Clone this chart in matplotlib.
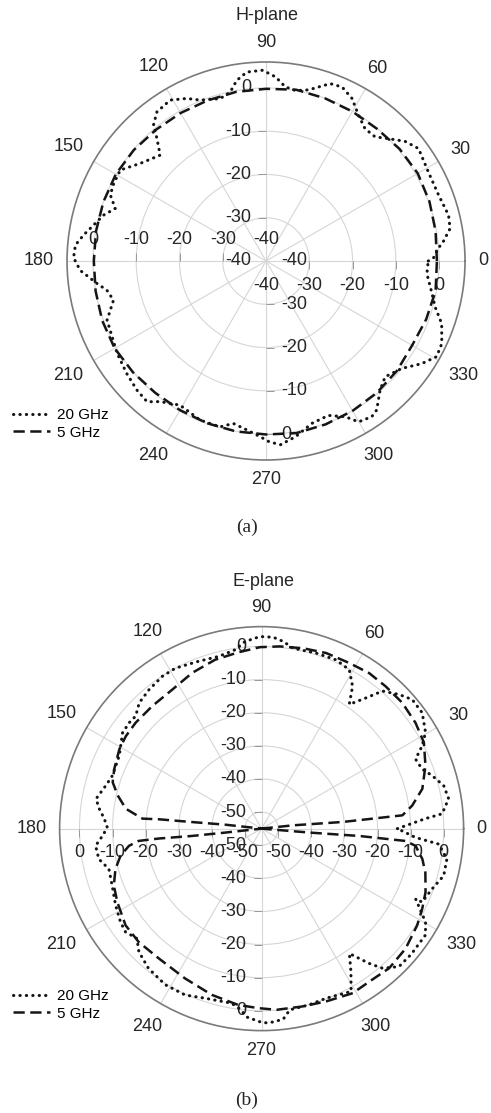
import numpy as np
import matplotlib
matplotlib.use("Agg")
import matplotlib.pyplot as plt
from matplotlib.lines import Line2D
from matplotlib.markers import TICKLEFT, TICKRIGHT, TICKUP, TICKDOWN

plt.rcParams['font.family'] = ['Liberation Sans', 'DejaVu Sans']

# Data (angle in degrees, level in dB) ------------------------------
# H-plane, 20 GHz
h_ang_20 = [0, 1, 4.2, 6.2, 10, 14.1, 20.9, 28.8, 36.4, 40.7, 45, 48.7, 53.2,
            57.6, 62.1, 66.4, 70.1, 75, 77, 80.3, 83.7, 87, 91, 95.8, 99.2,
            102, 105.8, 112.3, 116, 120.8, 126.2, 129.6, 131.7, 135, 142.2,
            148, 153, 157, 160.8, 164.2, 168.2, 171.9, 175.2, 179, 182.9,
            187.6, 190.4, 194.4, 200.4, 211.8, 219, 225, 229.8, 233, 239.2,
            247.5, 254.5, 258.6, 263.5, 268, 271, 274.5, 279.5, 285.8, 292,
            297, 299.9, 304.2, 306.6, 311.5, 315.8, 321.6, 326.6, 330.7,
            334.8, 340.4, 344.8, 348.9, 355.5, 360]
h_db_20 = [-2.5, -1.3, -0.1, 1.2, 3.2, 3.5, 2.7, 2.8, 3.8, 2.4, 0.0, -1.8, -1.8,
           -0.1, 2.5, 3.9, 3.6, 1.2, 0.5, 0.0, 0.5, 2.6, 4.1, 3.9, 2.3,
           -0.1, -1.0, 0.2, 1.8, 3.3, 2.7, 0.8, -2.1, -5.4, -3.2,
           -0.3, -0.5, -0.9, -3.1, -1.0, 0.7, 2.6, 4.2, 4.5, 3.0,
           -0.6, -2.6, -3.6, -0.8, 0.5, 1.4, 2.2, 2.6, 0.7, -1.2,
           -0.2, -0.2, -1.7, -0.7, 0.6, 1.8, 2.6, 1.2, -1.0, -1.5,
           0.4, 2.9, 3.5, 2.9, -0.2, -1.6, 0.0, 3.1, 5.2,
           4.9, 3.1, 0.5, -0.9, -2.7, -2.5]

# H-plane, 5 GHz
h_ang_5 = [0, 10, 20, 30, 40, 50, 60, 70, 80, 90, 100, 110, 120, 130, 140, 150,
           160, 170, 180, 190, 200, 210, 220, 230, 240, 250, 260, 270, 280,
           290, 300, 310, 320, 330, 340, 350, 360]
h_db_5 = [-0.5, -0.2, 0.2, 0.5, 0.3, -0.1, -0.1, 0.0, 0.2, -0.2, -0.3, -0.5,
          -0.5, -0.4, -0.1, 0.1, 0.0, -0.1, -0.2, 0.0, 0.3, 0.4, 0.1, -0.2,
          -0.2, -0.1, 0.0, 0.1, 0.4, 0.2, 0.0, -0.2, -0.5, -1.0, -0.6, -0.2,
          -0.5]

# E-plane, 20 GHz
e_ang_20 = [0, 3.5, 4.7, 9.1, 13.3, 17.3, 20.4, 24.3, 27.3, 30.4, 35.8, 40.6,
            44.3, 48.7, 51.4, 54.8, 57.4, 61.1, 66.2, 72.7, 80.1, 83.4, 86.5,
            90.5, 95.1, 98.4, 104, 110.6, 118.2, 123.1, 129, 134.2, 138.2,
            141.3, 145.4, 152.9, 160.4, 164.5, 169.8, 173, 176.4, 179.6,
            182.6, 185.9, 190.6, 194.8, 200.9, 207.7, 213.5, 217.2, 221.4,
            225.1, 231, 238.3, 245.3, 251.5, 260.2, 263.2, 265.6, 270.5,
            273.4, 276.5, 278.8, 285.2, 290.8, 298.8, 302, 305.1, 308.6,
            310.9, 314.9, 320, 327, 330.3, 335.5, 335.4, 340.5, 345.5, 350.7,
            355, 356.7, 360]
e_db_20 = [-14.0, -5.4, -0.3, 2.2, 1.5, -1.1, -3.3, -4.0, -0.4, 2.4, 4.8, 4.9,
           3.0, 0.3, -4.5, -9.1, -4.0, -0.2, 0.7, 0.5, 0.3, 1.9, 2.9,
           3.0, 1.7, -0.4, -1.4, -1.0, 0.0, -0.1, -1.0, -2.0, -4.0,
           -3.8, -4.0, -6.7, -7.2, -6.2, -4.2, -5.6, -7.4, -8.4,
           -6.9, -4.6, -5.0, -7.3, -6.7, -5.2, -3.9, -3.4, -4.8,
           -2.5, -0.7, 0.4, 0.3, -1.0, -1.5, -0.1, 2.1, 3.7,
           3.5, 2.9, 0.4, 0.1, -0.2, 1.1, -4.1, -8.9, -2.9,
           0.8, 3.8, 4.0, 4.0, 2.0, -3.9, -1.7, -0.4, 1.8, 1.7,
           -1.3, -8.4, -14.0]

# E-plane, 5 GHz
e_ang_5 = [0, 6, 4.7, 5.4, 8.7, 13.9, 21, 28, 34.5, 41.8, 48.9, 55.3, 62, 69.8,
           77, 84.3, 90.5, 97.5, 105.4, 114, 122.7, 131.7, 139.9, 145.7, 150.8,
           158, 162.7, 167, 171.7, 175.2, 174.8, 174.6, 173.8, 180, 186.2, 186,
           185.5, 185.7, 187.4, 190.9, 195.5, 201, 207, 215.4, 222.7, 231.6,
           242.9, 253.3, 262.4, 268.8, 274.7, 283, 290.5, 299, 305, 312.4,
           320.2, 328.2, 333.5, 338.8, 345, 349.3, 353.6, 355.1, 355.7, 355.3,
           360]
e_db_5 = [-55, -45.5, -30.4, -12.3, -9.0, -5.0, -2.0, 0.5, 1.4, 2.0, 2.0, 2.1,
          1.6, 1.5, 0.9, 0.3, -0.2, -1.3, -2.1, -3.5, -5.1, -5.4, -5.3, -5.4,
          -5.8, -7.0, -7.9, -10.4, -13.6, -18.9, -23.9, -33.9, -43.9, -55,
          -43.8, -33.8, -23.8, -17.7, -14.6, -11.6, -9.2, -7.2, -6.1, -4.6,
          -4.5, -5.0, -4.2, -2.6, -1.3, -0.8, -0.1, 0.1, 0.7, 1.8, 1.5, 2.1,
          1.6, 0.3, -0.8, -1.9, -3.8, -5.6, -8.2, -11.3, -25.4, -40.5, -55]

angle_labels = [0, 30, 60, 90, 120, 150, 180, 210, 240, 270, 300, 330]
h_rings = [-40, -30, -20, -10, 0]
e_rings = [-50, -40, -30, -20, -10, 0]
series_labels = ['20 GHz', '5 GHz']

# Styles -------------------------------------------------------------
ink = '#151515'
dot_style = dict(color=ink, lw=2.2, ls=(0, (0.1, 2.0)), dash_capstyle='round')
dash_style = dict(color=ink, lw=1.8, ls=(0, (4.5, 2.2)))
txt = '#262626'

fig = plt.figure(figsize=(4.91, 11.13), dpi=100)


def polar_panel(rect, rmin, rmax, rings, axes_labels):
    ax = fig.add_axes(rect, projection='polar')
    ax.set_rlim(rmin, rmax)
    ax.set_yticks([r for r in rings if r > rmin])
    ax.set_yticklabels([])
    ax.set_xticks(np.radians(angle_labels))
    ax.set_xticklabels([])
    ax.grid(True, color='#d6d6d6', lw=0.8)
    ax.spines['polar'].set_color('#7a7a7a')
    ax.spines['polar'].set_linewidth(1.2)
    ax.tick_params(axis='x', direction='out', length=5, width=1,
                   colors='#7a7a7a')

    # angle labels around the circle, kept a fixed gap from the rim
    for a in angle_labels:
        t = np.radians(a)
        half_w = 5.0 * len(str(a))
        d = 13 + half_w * abs(np.cos(t)) + 6.5 * abs(np.sin(t))
        ax.annotate(str(a), (t, rmax), xytext=(d * np.cos(t), d * np.sin(t)),
                    textcoords='offset pixels', ha='center', va='center',
                    fontsize=13, color=txt, annotation_clip=False)

    # radial labels and small ticks along the four axes
    for theta, vals, dx, dy, ha, mk in axes_labels:
        t = np.radians(theta)
        for v in vals:
            ax.annotate(str(v), (t, v), xytext=(dx, dy),
                        textcoords='offset pixels', ha=ha, va='center',
                        fontsize=13, color=txt, annotation_clip=False)
        tv = [v for v in vals if v > rmin]
        ax.plot([t] * len(tv), tv, ls='none', marker=mk, ms=6, mew=0.7,
                color='#9a9a9a', zorder=3)
    return ax


# H-plane ------------------------------------------------------------
h_axes = [(90, h_rings, -15, 0, 'right', TICKLEFT),
          (270, h_rings, 15, 0, 'left', TICKRIGHT),
          (180, h_rings, 0, 21, 'center', TICKUP),
          (0, h_rings, 0, -25, 'center', TICKDOWN)]
ax1 = polar_panel([0.1365, 0.5867, 0.8106, 0.3576], -40, 6, h_rings, h_axes)
ax1.plot(np.radians(h_ang_20), h_db_20, zorder=5, **dot_style)
ax1.plot(np.radians(h_ang_5), h_db_5, zorder=5, **dash_style)

# E-plane ------------------------------------------------------------
e_axes = [(90, e_rings, -15, 0, 'right', TICKLEFT),
          (270, e_rings, -15, 0, 'right', TICKLEFT),
          (180, e_rings, 0, -24, 'center', TICKDOWN),
          (0, e_rings, 0, -24, 'center', TICKDOWN)]
ax2 = polar_panel([0.1214, 0.074, 0.8228, 0.363], -55, 6, e_rings, e_axes)
ax2.plot(np.radians(e_ang_20), e_db_20, zorder=5, **dot_style)
ax2.plot(np.radians(e_ang_5), e_db_5, zorder=5, **dash_style)

# Titles, legends, captions ------------------------------------------
fig.text(0.543, 1 - 15 / 1113, 'H-plane', ha='center', va='center',
         fontsize=13, color=txt)
fig.text(0.537, 1 - 581 / 1113, 'E-plane', ha='center', va='center',
         fontsize=13, color=txt)

handles = [Line2D([], [], **dot_style), Line2D([], [], **dash_style)]
for ytop in [1 - 408 / 1113, 1 - 989 / 1113]:
    fig.legend(handles, series_labels, loc='upper left',
               bbox_to_anchor=(13 / 491, ytop), frameon=False, fontsize=11,
               handlelength=2.4, handletextpad=0.5, labelspacing=0.25,
               borderpad=0, borderaxespad=0)

fig.text(0.503, 1 - 527 / 1113, '(a)', ha='center', va='center',
         fontsize=14, family='Liberation Serif', color=txt)
fig.text(0.503, 1 - 1100 / 1113, '(b)', ha='center', va='center',
         fontsize=14, family='Liberation Serif', color=txt)

fig.savefig('out.png', dpi=100)
